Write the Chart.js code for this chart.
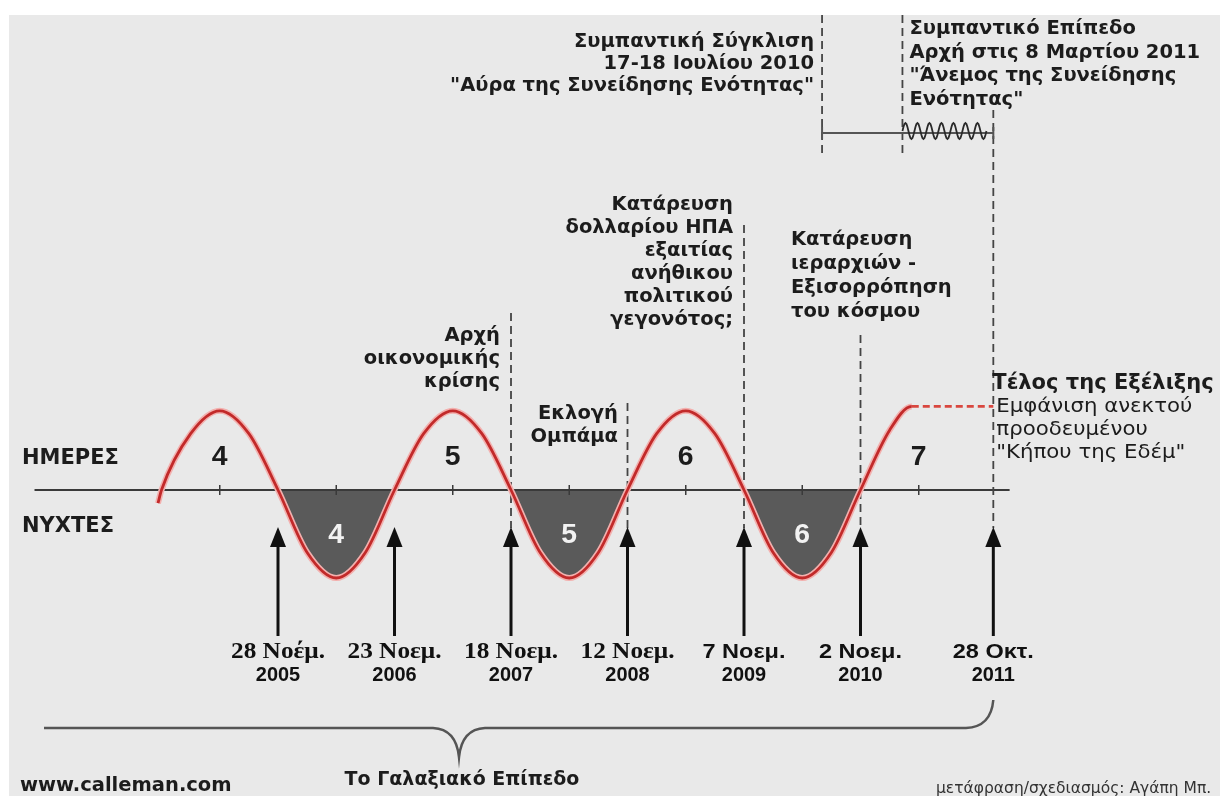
<!DOCTYPE html>
<html>
<head>
<meta charset="utf-8">
<script src="https://cdn.jsdelivr.net/npm/chart.js@4.4.1/dist/chart.umd.min.js"></script>
<style>
  html, body { margin: 0; padding: 0; background: #fff; }
  canvas { display: block; }
</style>
</head>
<body>
<canvas id="cycleChart" width="1220" height="796"></canvas>
<script>
// x in tun (360-day steps), 0 = 28 Nov 2005; y = wave height (+ day, - night)
const waveX = [-1.03, -1, -0.75, -0.5, -0.25, 0, 0.25, 0.5, 0.75, 1, 1.25, 1.5, 1.75, 2, 2.25, 2.5, 2.75, 3,
               3.25, 3.5, 3.75, 4, 4.25, 4.5, 4.75, 5, 5.25, 5.44, 6.14];
const waveY = [-0.15, 0, 0.64, 0.9, 0.64, 0, -0.71, -1, -0.71, 0, 0.64, 0.9, 0.64, 0, -0.71, -1, -0.71, 0,
               0.64, 0.9, 0.64, 0, -0.71, -1, -0.71, 0, 0.68, 0.95, 0.95];

const eventX = [0, 1, 2, 3, 4, 5, 6.14];
const eventDay = ['28 Νοέμ.', '23 Νοεμ.', '18 Νοεμ.', '12 Νοεμ.', '7 Νοεμ.', '2 Νοεμ.', '28 Οκτ.'];
const eventYear = ['2005', '2006', '2007', '2008', '2009', '2010', '2011'];

const dayX = [-0.5, 1.5, 3.5, 5.5];
const dayNumbers = ['4', '5', '6', '7'];
const nightX = [0.5, 2.5, 4.5];
const nightNumbers = ['4', '5', '6'];

const axisRange = [-2.09, 6.28];
const tickX = [-1, -0.5, 0, 0.5, 1, 1.5, 2, 2.5, 3, 3.5, 4, 4.5, 5, 5.5];
const convergenceX = 4.67;   // 17-18 Ιουλίου 2010
const universalX = 5.36;     // 8 Μαρτίου 2011

const convergenceText = ['Συμπαντική Σύγκλιση', '17-18 Ιουλίου 2010', '"Αύρα της Συνείδησης Ενότητας"'];
const universalText = ['Συμπαντικό Επίπεδο', 'Αρχή στις 8 Μαρτίου 2011', '"Άνεμος της Συνείδησης', 'Ενότητας"'];
const crisisText = ['Αρχή', 'οικονομικής', 'κρίσης'];
const obamaText = ['Εκλογή', 'Ομπάμα'];
const dollarText = ['Κατάρευση', 'δολλαρίου ΗΠΑ', 'εξαιτίας', 'ανήθικου', 'πολιτικού', 'γεγονότος;'];
const hierarchyText = ['Κατάρευση', 'ιεραρχιών -', 'Εξισορρόπηση', 'του κόσμου'];
const endTitle = 'Τέλος της Εξέλιξης';
const endText = ['Εμφάνιση ανεκτού', 'προοδευμένου', '"Κήπου της Εδέμ"'];

const wavePoints = waveX.map((x, i) => ({ x: x, y: waveY[i] }));
const lastSolid = waveX.length - 2;

const BOLD = 'bold 19.5px "DejaVu Sans"';

function put(ctx, text, x, y, align, font, sx) {
    ctx.save();
    ctx.font = font;
    ctx.textAlign = align;
    ctx.textBaseline = 'middle';
    ctx.translate(x, y);
    ctx.scale(sx || 1, 1);
    ctx.fillText(text, 0, 0);
    ctx.restore();
}

function textBlock(ctx, lines, x, y, lh, align, font, sx) {
    lines.forEach((t, i) => put(ctx, t, x, y + i * lh, align, font, sx));
}

function dashedV(ctx, x, y0, y1) {
    ctx.save();
    ctx.strokeStyle = '#444';
    ctx.lineWidth = 1.8;
    ctx.setLineDash([8, 5]);
    ctx.beginPath();
    ctx.moveTo(x, y0);
    ctx.lineTo(x, y1);
    ctx.stroke();
    ctx.restore();
}

const overlay = {
    id: 'overlay',
    beforeDraw(chart) {
        const ctx = chart.ctx;
        ctx.save();
        ctx.fillStyle = '#ffffff';
        ctx.fillRect(0, 0, chart.width, chart.height);
        ctx.fillStyle = '#e9e9e9';
        ctx.fillRect(9, 15, chart.width - 9, chart.height - 15);
        ctx.restore();
    },
    beforeDatasetsDraw(chart) {
        const ctx = chart.ctx;
        const xs = chart.scales.x, ys = chart.scales.y;
        const y0 = ys.getPixelForValue(0);
        ctx.save();
        // time axis
        ctx.strokeStyle = '#3a3a3a';
        ctx.lineWidth = 2;
        ctx.beginPath();
        ctx.moveTo(xs.getPixelForValue(axisRange[0]), y0);
        ctx.lineTo(xs.getPixelForValue(axisRange[1]), y0);
        ctx.stroke();
        ctx.lineWidth = 1.5;
        tickX.forEach(t => {
            const px = xs.getPixelForValue(t);
            ctx.beginPath();
            ctx.moveTo(px, y0 - 5);
            ctx.lineTo(px, y0 + 5);
            ctx.stroke();
        });
        // event guide lines
        const tops = [null, null, 313, 403, 225, 335, 110];
        eventX.forEach((e, i) => {
            if (tops[i] !== null) dashedV(ctx, xs.getPixelForValue(e), tops[i], 528);
        });
        dashedV(ctx, xs.getPixelForValue(convergenceX), 15, 158);
        dashedV(ctx, xs.getPixelForValue(universalX), 15, 158);
        ctx.restore();
    },
    afterDatasetsDraw(chart) {
        const ctx = chart.ctx;
        const xs = chart.scales.x;
        ctx.save();

        // convergence line and wind squiggle
        const cx = xs.getPixelForValue(convergenceX);
        const ux = xs.getPixelForValue(universalX);
        const ex = xs.getPixelForValue(eventX[6]);
        ctx.strokeStyle = '#555';
        ctx.lineWidth = 2;
        ctx.beginPath();
        ctx.moveTo(cx, 133);
        ctx.lineTo(ex, 133);
        ctx.moveTo(cx, 127);
        ctx.lineTo(cx, 139);
        ctx.moveTo(ex, 127);
        ctx.lineTo(ex, 139);
        ctx.stroke();
        ctx.strokeStyle = '#2a2a2a';
        ctx.lineWidth = 1.8;
        ctx.beginPath();
        for (let px = ux; px <= ex - 6; px += 1) {
            const yy = 131 - 8 * Math.sin((px - ux) / 12 * 2 * Math.PI);
            if (px === ux) ctx.moveTo(px, yy); else ctx.lineTo(px, yy);
        }
        ctx.stroke();

        // arrows and dates
        ctx.fillStyle = '#111';
        ctx.strokeStyle = '#111';
        eventX.forEach((e, i) => {
            const px = xs.getPixelForValue(e);
            ctx.lineWidth = 3;
            ctx.beginPath();
            ctx.moveTo(px, 636);
            ctx.lineTo(px, 544);
            ctx.stroke();
            ctx.beginPath();
            ctx.moveTo(px, 527);
            ctx.lineTo(px - 8, 547);
            ctx.lineTo(px + 8, 547);
            ctx.closePath();
            ctx.fill();
            if (i < 4) put(ctx, eventDay[i], px, 652, 'center', 'bold 23px "Liberation Serif"', 1.1);
            else put(ctx, eventDay[i], px, 652, 'center', 'bold 21px "Liberation Sans"', 1.12);
            put(ctx, eventYear[i], px, 675, 'center', 'bold 21px "Liberation Sans"', 0.95);
        });

        // cycle numbers
        const numFont = 'bold 27px "Liberation Sans"';
        ctx.fillStyle = '#1c1c1c';
        dayX.forEach((d, i) => put(ctx, dayNumbers[i], xs.getPixelForValue(d), 458, 'center', numFont, 1.05));
        ctx.fillStyle = '#f2f2f2';
        nightX.forEach((d, i) => put(ctx, nightNumbers[i], xs.getPixelForValue(d), 536, 'center', numFont, 1.05));

        ctx.fillStyle = '#1c1c1c';
        put(ctx, 'ΗΜΕΡΕΣ', 22, 459, 'left', 'bold 21px "DejaVu Sans"');
        put(ctx, 'ΝΥΧΤΕΣ', 22, 527, 'left', 'bold 21px "DejaVu Sans"');

        // annotations
        textBlock(ctx, convergenceText, cx - 8, 42, 22, 'right', BOLD);
        textBlock(ctx, universalText, ux + 7, 29, 23.5, 'left', BOLD);
        textBlock(ctx, crisisText, 500, 336, 23, 'right', BOLD);
        textBlock(ctx, obamaText, 618, 414, 23, 'right', BOLD);
        textBlock(ctx, dollarText, 733, 205, 23, 'right', BOLD);
        textBlock(ctx, hierarchyText, 791, 240, 24, 'left', BOLD);
        put(ctx, endTitle, ex - 1, 384, 'left', 'bold 21px "DejaVu Sans"');
        textBlock(ctx, endText, ex + 3, 407, 23, 'left', '19px "DejaVu Sans"', 1.12);

        // galactic bracket
        ctx.strokeStyle = '#555';
        ctx.lineWidth = 2.5;
        ctx.beginPath();
        ctx.moveTo(44, 728);
        ctx.lineTo(433, 728);
        ctx.quadraticCurveTo(456, 729, 459, 757);
        ctx.quadraticCurveTo(462, 729, 485, 728);
        ctx.lineTo(966, 728);
        ctx.quadraticCurveTo(991, 727, ex, 700);
        ctx.stroke();

        ctx.fillStyle = '#1c1c1c';
        put(ctx, 'Το Γαλαξιακό Επίπεδο', 462, 780, 'center', 'bold 19px "DejaVu Sans"');
        put(ctx, 'www.calleman.com', 20, 786, 'left', 'bold 19.5px "DejaVu Sans"');
        ctx.fillStyle = '#333';
        put(ctx, 'μετάφραση/σχεδιασμός: Αγάπη Μπ.', 936, 789, 'left', '15.5px "DejaVu Sans"');
        ctx.restore();
    }
};

const cycleChart = new Chart(document.getElementById('cycleChart'), {
    type: 'line',
    data: {
        datasets: [{
            data: wavePoints,
            borderColor: '#c22a2a',
            borderWidth: 2.8,
            pointRadius: 0,
            cubicInterpolationMode: 'monotone',
            fill: { target: 'origin', above: 'rgba(0,0,0,0)', below: '#5a5a5a' },
            segment: {
                borderDash: ctx => ctx.p0DataIndex >= lastSolid ? [7, 4] : undefined,
                borderColor: ctx => ctx.p0DataIndex >= lastSolid ? '#d9473f' : undefined
            }
        }, {
            data: wavePoints,
            borderColor: '#f3b0ae',
            borderWidth: 6,
            pointRadius: 0,
            cubicInterpolationMode: 'monotone',
            fill: false,
            segment: {
                borderColor: ctx => ctx.p0DataIndex >= lastSolid ? 'rgba(0,0,0,0)' : undefined
            }
        }]
    },
    options: {
        responsive: false,
        animation: false,
        events: [],
        layout: { padding: 0 },
        plugins: {
            legend: { display: false },
            tooltip: { enabled: false },
            filler: { drawTime: 'beforeDatasetsDraw' }
        },
        scales: {
            x: { type: 'linear', display: false, min: -2.3863, max: 8.0858 },
            y: { type: 'linear', display: false, min: -3.477, max: 5.568 }
        }
    },
    plugins: [overlay]
});
</script>
</body>
</html>
